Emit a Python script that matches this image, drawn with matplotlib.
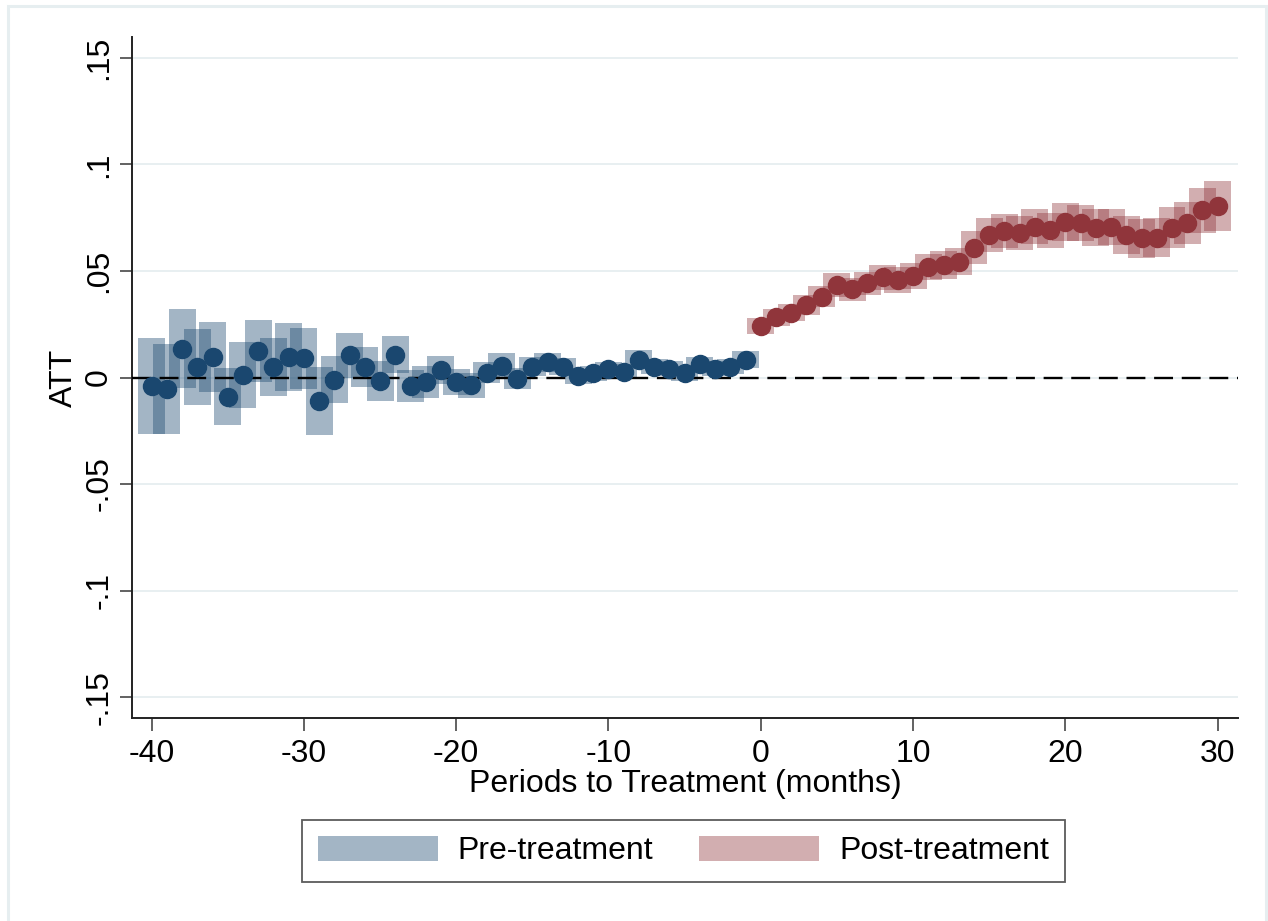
import numpy as np
import matplotlib
matplotlib.use('Agg')
import matplotlib.pyplot as plt
from matplotlib.patches import Rectangle, Patch

plt.rcParams['font.family'] = ['Liberation Sans', 'DejaVu Sans']

# event time (months relative to treatment)
pre_periods = list(range(-40, 0))
post_periods = list(range(0, 31))

# point estimates
pre_att = [-0.004, -0.0055, 0.0135, 0.005, 0.0098, -0.009, 0.0012, 0.0125, 0.005, 0.0098,
           0.009, -0.011, -0.001, 0.0105, 0.005, -0.0015, 0.0107, -0.004, -0.002, 0.0035,
           -0.002, -0.0037, 0.0023, 0.0055, -0.0005, 0.005, 0.0072, 0.005, 0.0005, 0.0019,
           0.004, 0.0028, 0.0084, 0.005, 0.0042, 0.0019, 0.0063, 0.0042, 0.005, 0.0084]
post_att = [0.0243, 0.0283, 0.0305, 0.034, 0.038, 0.0435, 0.0414, 0.0442, 0.047, 0.0458,
            0.0477, 0.052, 0.0528, 0.0544, 0.061, 0.0668, 0.0688, 0.0679, 0.0707, 0.0692,
            0.073, 0.0726, 0.0704, 0.0707, 0.0668, 0.0653, 0.0657, 0.0704, 0.0726, 0.0785,
            0.0804]

# half-width of the confidence intervals
pre_ci = [0.0226, 0.021, 0.0185, 0.018, 0.0164, 0.0134, 0.0154, 0.0145, 0.0137, 0.016,
          0.0143, 0.016, 0.011, 0.0106, 0.0095, 0.0093, 0.0087, 0.0075, 0.0075, 0.0065,
          0.006, 0.006, 0.005, 0.006, 0.005, 0.0045, 0.0045, 0.004, 0.0035, 0.0035,
          0.0035, 0.0035, 0.0045, 0.0035, 0.0035, 0.0035, 0.0035, 0.0035, 0.0035, 0.004]
post_ci = [0.0038, 0.004, 0.0042, 0.0045, 0.005, 0.0055, 0.0055, 0.0055, 0.006, 0.006,
           0.006, 0.0062, 0.0065, 0.0065, 0.0078, 0.008, 0.008, 0.008, 0.0082, 0.0082,
           0.0087, 0.0085, 0.0085, 0.0085, 0.0088, 0.0093, 0.0093, 0.0095, 0.0098, 0.0105,
           0.0117]

yticks = [-0.15, -0.1, -0.05, 0, 0.05, 0.1, 0.15]
ytick_labels = ['-.15', '-.1', '-.05', '0', '.05', '.1', '.15']
xticks = [-40, -30, -20, -10, 0, 10, 20, 30]

navy = '#1a476f'
maroon = '#90353b'
fs = 23

fig = plt.figure(figsize=(12.68, 9.21), dpi=100)
ax = fig.add_axes([0.1043, 0.2207, 0.9763 - 0.1043, 0.9595 - 0.2207])

# light outer frame like the Stata graph region
fig.patches.append(Rectangle((8 / 1268, -0.01), 1258 / 1268, 1 - 6 / 921 + 0.01,
                             transform=fig.transFigure, fill=False,
                             edgecolor='#e6eef0', lw=2.2, zorder=0))

for y in yticks:
    ax.axhline(y, color='#e6eef0', lw=1.3, zorder=0)

pre_lo = np.array(pre_att) - np.array(pre_ci)
post_lo = np.array(post_att) - np.array(post_ci)
ax.bar(pre_periods, 2 * np.array(pre_ci), bottom=pre_lo, width=1.77,
       color=navy, alpha=0.4, linewidth=0, zorder=2)
ax.bar(post_periods, 2 * np.array(post_ci), bottom=post_lo, width=1.77,
       color=maroon, alpha=0.4, linewidth=0, zorder=2)

ax.axhline(0, color='black', lw=1.7, linestyle=(0, (8, 3.7)), zorder=3)

ax.plot(pre_periods, pre_att, 'o', color=navy, markersize=13, zorder=4)
ax.plot(post_periods, post_att, 'o', color=maroon, markersize=13, zorder=4)

ax.set_xlim(-41.27, 31.33)
ax.set_ylim(-0.1597, 0.1597)
ax.set_xticks(xticks)
ax.set_xticklabels([str(x) for x in xticks], fontsize=fs)
ax.set_yticks(yticks)
ax.set_yticklabels(ytick_labels, fontsize=fs, rotation=90, va='center')

for side in ['top', 'right']:
    ax.spines[side].set_visible(False)
for side in ['left', 'bottom']:
    ax.spines[side].set_color('#222222')
    ax.spines[side].set_linewidth(1.4)
ax.tick_params(length=9, width=1.3, color='#555555', pad=6)
ax.tick_params(axis='y', pad=4)

ax.set_xlabel('Periods to Treatment (months)', fontsize=fs, labelpad=0)
ax.set_ylabel('ATT', fontsize=fs, labelpad=4)

handles = [Patch(facecolor=navy, alpha=0.4, edgecolor='none'),
           Patch(facecolor=maroon, alpha=0.4, edgecolor='none')]
leg = fig.legend(handles, ['Pre-treatment', 'Post-treatment'], loc='center',
                 bbox_to_anchor=(0.539, 0.076), ncol=2, fontsize=fs,
                 handlelength=3.75, handleheight=0.85, handletextpad=0.62,
                 columnspacing=1.45, borderpad=0.5, fancybox=False,
                 frameon=True, borderaxespad=0)
leg.get_frame().set_edgecolor('#333333')
leg.get_frame().set_linewidth(1.3)

fig.savefig('out.png', dpi=100, facecolor='white')
